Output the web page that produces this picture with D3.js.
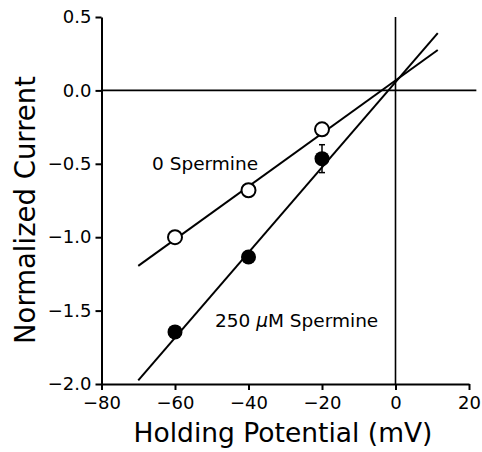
<!DOCTYPE html>
<html>
<head>
<meta charset="utf-8">
<script src="https://cdn.jsdelivr.net/npm/d3@7"></script>
<style>
  body { margin: 0; background: #fff; }
  svg { display: block; font-family: "DejaVu Sans", sans-serif; }
</style>
</head>
<body>
<svg id="chart" width="482" height="452"></svg>
<script>
let width = 482, height = 452;
let margin = { top: 17, right: 13, bottom: 68, left: 101.5 };

// Data
let potential = [-60, -40, -20];
let control = [-1.0, -0.68, -0.265];          // 0 Spermine (open)
let spermine = [-1.645, -1.135, -0.465];       // 250 uM Spermine (filled)
let spermineErr = [0, 0, 0.095];

// fitted lines, endpoints [x, y]
let controlFit = [[-70, -1.195], [11.5, 0.275]];
let spermineFit = [[-70, -1.975], [11.5, 0.39]];

let xTicks = [-80, -60, -40, -20, 0, 20];
let yTicks = [0.5, 0.0, -0.5, -1.0, -1.5, -2.0];

let svg = d3.select("#chart");

// Scales
let xScale = d3.scaleLinear()
  .domain([-80, 20])
  .range([margin.left, width - margin.right]);

let yScale = d3.scaleLinear()
  .domain([-2.0, 0.5])
  .range([height - margin.bottom, margin.top]);

// Axes
let xAxis = d3.axisBottom(xScale).tickValues(xTicks)
  .tickFormat(d => d < 0 ? "\u2212" + Math.abs(d) : d)
  .tickSizeInner(6).tickSizeOuter(0).tickPadding(6);
let yAxis = d3.axisLeft(yScale).tickValues(yTicks)
  .tickFormat(d => (d < 0 ? "\u2212" : "") + Math.abs(d).toFixed(1))
  .tickSizeInner(6).tickSizeOuter(0).tickPadding(4);

let gx = svg.append("g")
  .attr("transform", `translate(0,${yScale(-2.0)})`)
  .call(xAxis);
let gy = svg.append("g")
  .attr("transform", `translate(${xScale(-80)},0)`)
  .call(yAxis);

[gx, gy].forEach(g => {
  g.selectAll("path.domain").attr("stroke", "#000").attr("stroke-width", 2);
  g.selectAll(".tick line").attr("stroke", "#000").attr("stroke-width", 2);
  g.selectAll("text").attr("fill", "#000").style("font-size", "18px")
    .style("font-family", "\"DejaVu Sans\", sans-serif");
});

// Zero reference lines
svg.append("line")
  .attr("x1", xScale(-80)).attr("x2", xScale(22))
  .attr("y1", yScale(0)).attr("y2", yScale(0))
  .attr("stroke", "#000").attr("stroke-width", 1.6);
svg.append("line")
  .attr("x1", xScale(0)).attr("x2", xScale(0))
  .attr("y1", yScale(-2.0)).attr("y2", yScale(0.5))
  .attr("stroke", "#000").attr("stroke-width", 1.6);

// Fit lines
let line = d3.line().x(d => xScale(d[0])).y(d => yScale(d[1]));
[controlFit, spermineFit].forEach(fit => {
  svg.append("path")
    .attr("d", line(fit))
    .attr("fill", "none")
    .attr("stroke", "#000")
    .attr("stroke-width", 2);
});

// Error bars
potential.forEach((x, i) => {
  if (!spermineErr[i]) return;
  let cx = xScale(x);
  let y1 = yScale(spermine[i] + spermineErr[i]);
  let y2 = yScale(spermine[i] - spermineErr[i]);
  svg.append("line").attr("x1", cx).attr("x2", cx).attr("y1", y1).attr("y2", y2)
    .attr("stroke", "#000").attr("stroke-width", 1.5);
  [y1, y2].forEach(y => {
    svg.append("line").attr("x1", cx - 3).attr("x2", cx + 3).attr("y1", y).attr("y2", y)
      .attr("stroke", "#000").attr("stroke-width", 1.5);
  });
});

// Points
svg.append("g").selectAll("circle")
  .data(potential.map((x, i) => [x, control[i]]))
  .join("circle")
  .attr("cx", d => xScale(d[0]))
  .attr("cy", d => yScale(d[1]))
  .attr("r", 7)
  .attr("fill", "#fff")
  .attr("stroke", "#000")
  .attr("stroke-width", 2);

svg.append("g").selectAll("circle")
  .data(potential.map((x, i) => [x, spermine[i]]))
  .join("circle")
  .attr("cx", d => xScale(d[0]))
  .attr("cy", d => yScale(d[1]))
  .attr("r", 7.5)
  .attr("fill", "#000");

// Series labels
svg.append("text")
  .attr("x", 152).attr("y", 170)
  .style("font-size", "18.5px")
  .text("0 Spermine");

svg.append("text")
  .attr("x", 215).attr("y", 327)
  .style("font-size", "18.5px")
  .html("250 <tspan font-style=\"italic\">\u03bc</tspan>M Spermine");

// Axis titles
svg.append("text")
  .attr("x", 283)
  .attr("y", 442)
  .attr("text-anchor", "middle")
  .style("font-size", "26.5px")
  .text("Holding Potential (mV)");

svg.append("text")
  .attr("transform", "rotate(-90)")
  .attr("x", -210)
  .attr("y", 35)
  .attr("text-anchor", "middle")
  .style("font-size", "27.5px")
  .text("Normalized Current");
</script>
</body>
</html>
